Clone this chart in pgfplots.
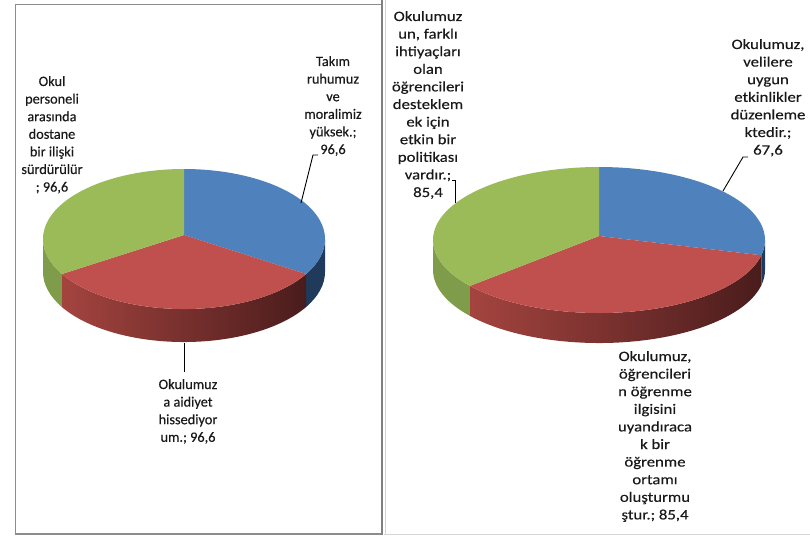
\documentclass[border=0pt]{standalone}
\usepackage{pgfplots}
\pgfplotsset{compat=1.18}
\usepackage{pgfplotstable}
\usepackage{graphicx}
\usepackage{fontspec}
\setmainfont{Carlito}

\definecolor{sliceblue}{HTML}{4F81BD}
\definecolor{slicered}{HTML}{C0504D}
\definecolor{slicegreen}{HTML}{9BBB59}
\definecolor{sideblue}{HTML}{203A5C}
\definecolor{sidegreen}{HTML}{7F9C4A}
\definecolor{sideredL}{HTML}{A4443F}
\definecolor{sideredR}{HTML}{4A1C1C}
\definecolor{framegray}{HTML}{8C8C8C}
\definecolor{lightframe}{HTML}{D4D4D4}

% slice values, clockwise from 12 o'clock: blue, red, green
\pgfplotstableread{
slice value
1 96.6
2 96.6
3 96.6
}\leftpie
\pgfplotstableread{
slice value
1 67.6
2 85.4
3 85.4
}\rightpie

\newcommand\lblfont{\fontsize{14.3}{17.6}\selectfont\addfontfeature{FakeBold=0.35}\color{black!90}}

% 3-D pie: cx, cy, rx, ry, depth, angle blue|red, angle red|green
\newcommand\piethreed[7]{%
  % visible sides (front half)
  \fill[sideblue] (axis cs:{#1+#3*cos(#6)},{#2-#4*sin(#6)})
     arc[start angle=#6, end angle=0, x radius=#3pt, y radius=#4pt]
     -- (axis cs:{#1+#3},{#2+#5})
     arc[start angle=0, end angle=#6, x radius=#3pt, y radius=#4pt] -- cycle;
  \shade[left color=sideredL, right color=sideredR]
     (axis cs:{#1+#3*cos(#7)},{#2-#4*sin(#7)})
     arc[start angle=#7, end angle=#6, x radius=#3pt, y radius=#4pt]
     -- (axis cs:{#1+#3*cos(#6)},{#2-#4*sin(#6)+#5})
     arc[start angle=#6, end angle=#7, x radius=#3pt, y radius=#4pt] -- cycle;
  \fill[sidegreen] (axis cs:{#1-#3},#2)
     arc[start angle=-180, end angle=#7, x radius=#3pt, y radius=#4pt]
     -- (axis cs:{#1+#3*cos(#7)},{#2-#4*sin(#7)+#5})
     arc[start angle=#7, end angle=-180, x radius=#3pt, y radius=#4pt] -- cycle;
  % top faces
  \fill[sliceblue] (axis cs:#1,{#2-4}) -- (axis cs:{#1+#3*cos(#6)},{#2-#4*sin(#6)})
     arc[start angle=#6, end angle=90, x radius=#3pt, y radius=#4pt] -- cycle;
  \fill[slicered] (axis cs:#1,{#2-4}) -- (axis cs:{#1+#3*cos(#7)},{#2-#4*sin(#7)})
     arc[start angle=#7, end angle=#6, x radius=#3pt, y radius=#4pt] -- cycle;
  \fill[slicegreen] (axis cs:#1,{#2-4}) -- (axis cs:{#1+#3*cos(#7)},{#2-#4*sin(#7)})
     arc[start angle=#7, end angle=-270, x radius=#3pt, y radius=#4pt] -- cycle;
}

% stacked centred label lines: x, first baseline, horizontal stretch, lines
\newcommand\labellines[4]{%
  \foreach \txt [count=\k from 0] in {#4}
    \node[anchor=base, inner sep=0pt, font=\lblfont] at (#1,{#2+17.6*\k})
      {\scalebox{#3}[1]{\txt}};
}

\begin{document}
\begin{tikzpicture}
\pgfplotstablegetelem{0}{value}\of\leftpie \let\La\pgfplotsretval
\pgfplotstablegetelem{1}{value}\of\leftpie \let\Lb\pgfplotsretval
\pgfplotstablegetelem{2}{value}\of\leftpie \let\Lc\pgfplotsretval
\pgfmathsetmacro\Lsum{\La+\Lb+\Lc}
\pgfmathsetmacro\LA{90-360*(\La/\Lsum)}
\pgfmathsetmacro\LB{\LA-360*(\Lb/\Lsum)}
\pgfplotstablegetelem{0}{value}\of\rightpie \let\Ra\pgfplotsretval
\pgfplotstablegetelem{1}{value}\of\rightpie \let\Rb\pgfplotsretval
\pgfplotstablegetelem{2}{value}\of\rightpie \let\Rc\pgfplotsretval
\pgfmathsetmacro\Rsum{\Ra+\Rb+\Rc}
\pgfmathsetmacro\RA{90-360*(\Ra/\Rsum)}
\pgfmathsetmacro\RB{\RA-360*(\Rb/\Rsum)}

\begin{axis}[
  at={(0pt,0pt)}, anchor=south west,
  width=810pt, height=539pt, scale only axis,
  xmin=0, xmax=810, ymin=0, ymax=539, y dir=reverse,
  hide axis, clip=false]
  \piethreed{184}{239}{141}{70}{33}{\LA}{\LB}
  \piethreed{599}{240}{166}{73}{30}{\RA}{\RB}
\end{axis}

\begin{scope}[x=1pt, y=-1pt, yshift=539pt]
  % panel frames
  \draw[framegray, line width=1.4pt] (382,4.5) -- (15.5,4.5) -- (15.5,534) -- (382,534);
  \draw[black!50, line width=2.6pt] (382,0) -- (382,535);
  \draw[lightframe, line width=1pt] (385.5,0) -- (385.5,535);
  \draw[lightframe, line width=1.4pt] (384,534.5) -- (810,534.5);

  % leader lines
  \draw[black, line width=0.9pt] (318,155) -- (313,155) -- (301,203);
  \draw[black, line width=0.9pt] (184,343) -- (184,372);
  \draw[black, line width=0.9pt] (748,157) -- (743,157) -- (723,191);
  \draw[black, line width=0.9pt] (452,180) -- (455,180) -- (455,203);

  % left pie labels
  \labellines{52}{86}{1}{{Okul},{personeli},{arasında},{dostane},{bir ilişki},{sürdürülür},{; 96,6}}
  \labellines{333}{66}{1}{{Takım},{ruhumuz},{ve},{moralimiz},{yüksek.;},{96,6}}
  \labellines{188}{389}{1}{{Okulumuz},{a aidiyet},{hissediyor},{um.; 96,6}}

  % right pie labels
  \labellines{428}{21}{1.17}{{Okulumuz},{un, farklı},{ihtiyaçları},{olan},{öğrencileri},{desteklem},{ek için},{etkin bir},{politikası},{vardır.;},{85,4}}
  \labellines{768}{49}{1.17}{{Okulumuz,},{velilere},{uygun},{etkinlikler},{düzenleme},{ktedir.;},{67,6}}
  \labellines{655}{361}{1.17}{{Okulumuz,},{öğrencileri},{n öğrenme},{ilgisini},{uyandıraca},{k bir},{öğrenme},{ortamı},{oluşturmu},{ştur.; 85,4}}
\end{scope}

\pgfresetboundingbox
\path[use as bounding box] (0pt,0pt) rectangle (810pt,539pt);
\end{tikzpicture}
\end{document}
